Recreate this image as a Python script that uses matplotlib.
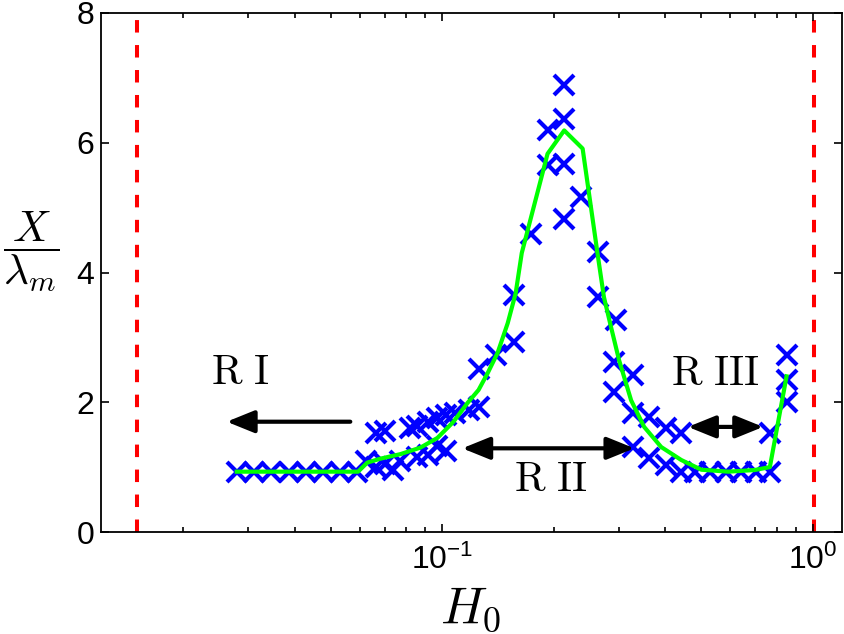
import matplotlib
matplotlib.use('Agg')
import matplotlib.pyplot as plt
from matplotlib.ticker import LogLocator, NullFormatter, FixedLocator, FixedFormatter

plt.rcParams['font.family'] = ['Liberation Sans', 'DejaVu Sans']
plt.rcParams['mathtext.fontset'] = 'cm'

# ---- data ----
h_points = [0.0279, 0.0310, 0.0345, 0.0385, 0.0428, 0.0476, 0.0530, 0.0590,
            0.0624, 0.0664, 0.0664, 0.0702, 0.0702, 0.0738, 0.0771, 0.0821,
            0.0857, 0.0857, 0.0913, 0.0913, 0.0971, 0.0971, 0.1021, 0.1021,
            0.1086, 0.1178,
            0.1254, 0.1254, 0.1394, 0.1560, 0.1560, 0.1734, 0.1925, 0.1925,
            0.2135, 0.2135, 0.2135, 0.2135, 0.2369, 0.2633, 0.2633,
            0.2946, 0.2915, 0.2915, 0.3269, 0.3269, 0.3269, 0.3626, 0.3626,
            0.4024, 0.4024, 0.4419, 0.4419, 0.4801, 0.5274, 0.5849, 0.6425,
            0.7053, 0.7664, 0.7664, 0.8502, 0.8502, 0.8502]
x_points = [0.93, 0.93, 0.93, 0.93, 0.93, 0.93, 0.93, 0.93,
            1.10, 1.52, 1.00, 1.56, 1.05, 0.95, 1.10, 1.60,
            1.64, 1.16, 1.70, 1.19, 1.76, 1.32, 1.80, 1.25,
            1.83, 1.88,
            2.52, 1.93, 2.73, 3.65, 2.93, 4.60, 6.19, 5.65,
            6.89, 6.37, 5.68, 4.83, 5.17, 4.31, 3.62,
            3.27, 2.62, 2.16, 2.42, 1.83, 1.31, 1.77, 1.14,
            1.60, 1.03, 1.52, 0.93, 0.93, 0.93, 0.93, 0.93,
            0.93, 1.52, 0.93, 2.73, 2.34, 2.01]

h_fit = [0.0279, 0.0593, 0.0628, 0.0681, 0.0771, 0.0873, 0.0971, 0.1073,
         0.1171, 0.1254, 0.1327, 0.1411, 0.1503, 0.1579, 0.1640, 0.1925,
         0.2135, 0.2394, 0.2628, 0.2733, 0.2856, 0.3002, 0.3236, 0.3509,
         0.3901, 0.4419, 0.5006, 0.5922, 0.6966, 0.7664, 0.8502]
x_fit = [0.93, 0.93, 1.07, 1.13, 1.20, 1.30, 1.45, 1.70,
         1.99, 2.19, 2.45, 2.76, 3.22, 3.68, 4.30, 5.83,
         6.19, 5.91, 4.28, 3.62, 3.16, 2.65, 2.03, 1.62,
         1.31, 1.11, 0.96, 0.93, 0.955, 1.00, 2.40]

h_bounds = [0.015, 1.01]

regime_labels = ['R I', 'R II', 'R III']
label_h = [0.0286, 0.1965, 0.546]
label_x = [2.45, 0.80, 2.43]
arrow_from_h = [0.0565, 0.1133, 0.4607]
arrow_to_h = [0.02621, 0.3303, 0.7353]
arrow_x = [1.70, 1.29, 1.62]
arrow_double = [False, True, True]

y_ticks = [0, 2, 4, 6, 8]

# ---- figure ----
fig = plt.figure(figsize=(8.44, 6.34), dpi=100)
ax = fig.add_axes([101 / 844, 102 / 634, 741 / 844, 519 / 634])
ax.set_xscale('log')
ax.set_xlim(0.012, 1.2)
ax.set_ylim(0, 8)

for h in h_bounds:
    ax.axvline(h, color='#ff0000', lw=2.9, dashes=(3.1, 3.1), zorder=1)

ax.plot(h_points, x_points, linestyle='none', marker='x', color='#0000ff',
        ms=15, mew=3.0, zorder=2)
ax.plot(h_fit, x_fit, color='#00ff00', lw=3, zorder=3)

for txt, th, tx in zip(regime_labels, label_h, label_x):
    ax.text(th, tx, r'$\mathrm{' + txt.replace(' ', r'\ ') + '}$',
            fontsize=30, ha='center', va='center', color='black')

for a, b, y, dbl in zip(arrow_from_h, arrow_to_h, arrow_x, arrow_double):
    style = ('<|-|>' if dbl else '-|>') + ',head_length=0.42,head_width=0.17'
    ax.annotate('', xy=(b, y), xytext=(a, y),
                arrowprops=dict(arrowstyle=style, lw=3, color='black',
                                mutation_scale=40, shrinkA=0, shrinkB=0))

ax.xaxis.set_major_locator(FixedLocator([0.1, 1.0]))
ax.xaxis.set_major_formatter(FixedFormatter([r'$\mathdefault{10^{-1}}$', r'$\mathdefault{10^{0}}$']))
ax.xaxis.set_minor_locator(LogLocator(base=10, subs=[2, 3, 4, 5, 6, 7, 8, 9]))
ax.xaxis.set_minor_formatter(NullFormatter())
ax.set_yticks(y_ticks)

ax.tick_params(which='both', direction='in', top=True, right=True,
               labelsize=23, width=1.2)
ax.tick_params(which='major', length=5.5)
ax.tick_params(which='minor', length=3.5)
ax.tick_params(axis='x', pad=9)
ax.tick_params(axis='y', pad=5)
for s in ax.spines.values():
    s.set_linewidth(1.3)

fig.text(471 / 844, (634 - 623) / 634, r'$H_0$', fontsize=37,
         ha='center', va='baseline')
fig.text(31 / 844, (634 - 252) / 634, r'$\dfrac{X}{\lambda_m}$', fontsize=31,
         ha='center', va='center')

fig.savefig('out.png', dpi=100)
